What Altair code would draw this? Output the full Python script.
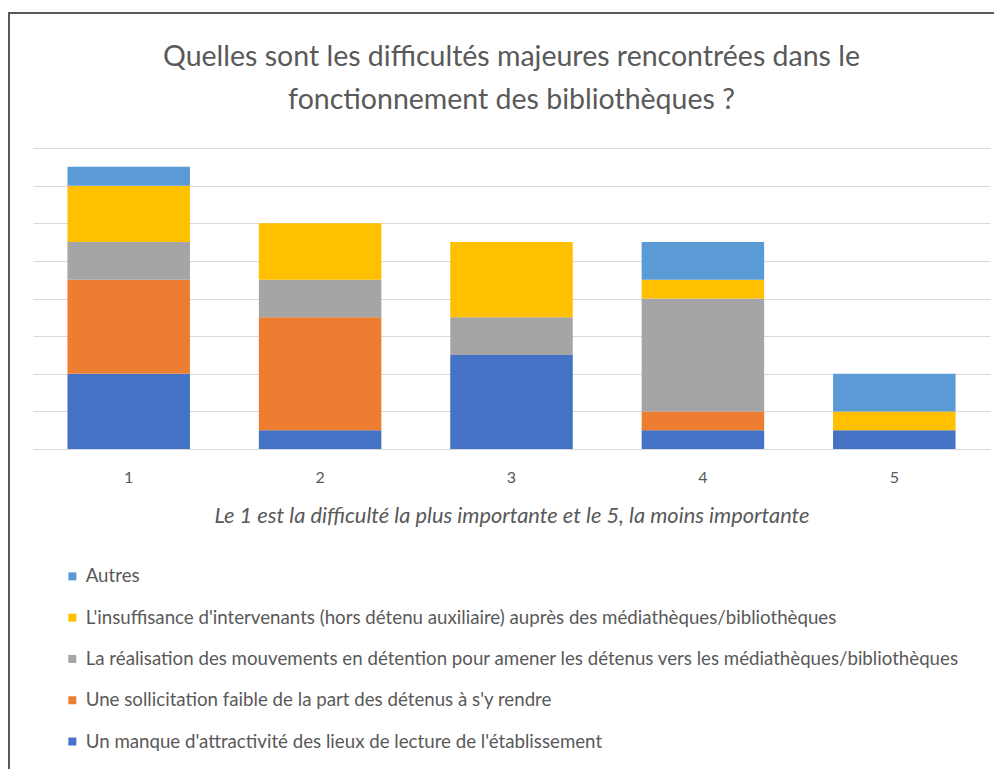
import altair as alt
import pandas as pd

categories = ["1", "2", "3", "4", "5"]
series_names = [
    "Un manque d'attractivité des lieux de lecture de l'établissement",
    "Une sollicitation faible de la part des détenus à s'y rendre",
    "La réalisation des mouvements en détention pour amener les détenus vers les médiathèques/bibliothèques",
    "L'insuffisance d'intervenants (hors détenu auxiliaire) auprès des médiathèques/bibliothèques",
    "Autres",
]
manque = [4, 1, 5, 1, 1]
sollicitation = [5, 6, 0, 1, 0]
realisation = [2, 2, 2, 6, 0]
insuffisance = [3, 3, 4, 1, 1]
autres = [1, 0, 0, 2, 2]
colors = ["#4472C4", "#ED7D31", "#A5A5A5", "#FFC000", "#5B9BD5"]

series_values = [manque, sollicitation, realisation, insuffisance, autres]
rows = []
for rank, (name, vals) in enumerate(zip(series_names, series_values)):
    for c, v in zip(categories, vals):
        rows.append({"cat": c, "serie": name, "value": v, "rank": rank})
df = pd.DataFrame(rows)

FONT = "Lato"
GREY = "#595959"

bars = alt.Chart(df).mark_bar().encode(
    x=alt.X(
        "cat:N",
        sort=categories,
        scale=alt.Scale(paddingInner=0.36, paddingOuter=0.18),
        axis=alt.Axis(
            title="Le 1 est la difficulté la plus importante et le 5, la moins importante",
            titleFont=FONT,
            titleFontStyle="italic",
            titleFontWeight="normal",
            titleFontSize=21.8,
            titleColor=GREY,
            titlePadding=20,
            labelFont=FONT,
            labelFontSize=16,
            labelColor=GREY,
            labelPadding=20,
            labelAngle=0,
            ticks=False,
            domain=False,
            grid=False,
        ),
    ),
    y=alt.Y(
        "value:Q",
        stack="zero",
        scale=alt.Scale(domain=[0, 16]),
        axis=alt.Axis(
            title=None,
            labels=False,
            ticks=False,
            domain=False,
            grid=True,
            gridColor="#D9D9D9",
            gridWidth=1,
            values=[0, 2, 4, 6, 8, 10, 12, 14, 16],
        ),
    ),
    color=alt.Color(
        "serie:N",
        scale=alt.Scale(domain=series_names[::-1], range=colors[::-1]),
        legend=alt.Legend(
            title=None,
            orient="none",
            legendX=30,
            legendY=419,
            direction="vertical",
            symbolType="square",
            symbolSize=64,
            symbolStrokeWidth=0,
            labelFont=FONT,
            labelFontSize=18.7,
            labelColor=GREY,
            labelLimit=1200,
            labelOffset=4,
            rowPadding=21.3,
        ),
    ),
    order=alt.Order("rank:Q", sort="ascending"),
)

frame = alt.Chart(alt.Data(values=[{}])).mark_rect(
    filled=False, stroke=GREY, strokeWidth=2
).encode(
    x=alt.value(-24), x2=alt.value(1100), y=alt.value(-135), y2=alt.value(1000)
)

chart = alt.layer(frame, bars).properties(
    width=957,
    height=301,
    padding={"left": 25, "top": 140, "right": 4, "bottom": 320},
    autosize=alt.AutoSizeParams(type="none"),
    view=alt.ViewBackground(stroke="transparent", strokeWidth=0),
    title=alt.TitleParams(
        text=["Quelles sont les difficultés majeures rencontrées dans le",
              "fonctionnement des bibliothèques ?"],
        font=FONT,
        fontSize=28.5,
        fontWeight="normal",
        color=GREY,
        lineHeight=43,
        anchor="middle",
        frame="group",
        offset=0,
        dy=102,
    ),
).configure_view(stroke="transparent", strokeWidth=0).configure(background="white")

chart.save("out.html", embed_options={"renderer": "svg", "actions": False})
